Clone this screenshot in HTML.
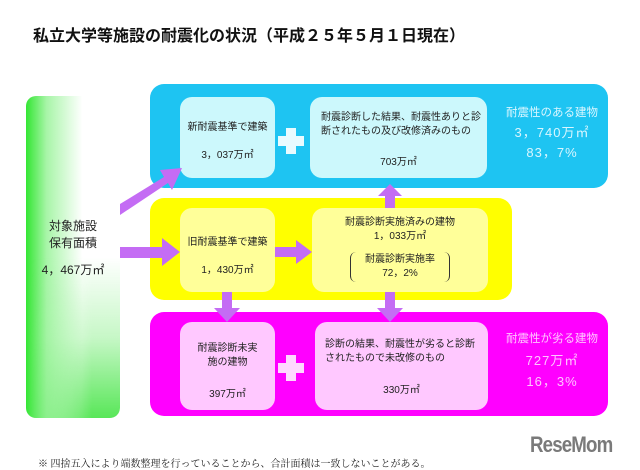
<!DOCTYPE html>
<html><head><meta charset="utf-8"><style>
*{margin:0;padding:0;box-sizing:border-box}
body{width:640px;height:470px;background:#fff;position:relative;overflow:hidden;font-family:"Liberation Sans","Noto Sans CJK JP",sans-serif;color:#222}
.a{position:absolute}
.panel{position:absolute;border-radius:14px}
.box{position:absolute;border-radius:12px;font-size:10px;text-align:center;line-height:14px}
</style></head><body>
<div class="a" style="left:33px;top:22px;font-size:16px;font-weight:bold;color:#111;letter-spacing:0px">私立大学等施設の耐震化の状況（平成２５年５月１日現在）</div>

<div class="panel" style="left:26px;top:96px;width:94px;height:322px;border-radius:10px;background:linear-gradient(90deg,#33e633 0%,#a8f5a8 22%,#fff 60%,#fff 100%)"></div>
<div class="panel" style="left:26px;top:96px;width:94px;height:322px;border-radius:10px;background:linear-gradient(0deg,rgba(70,228,70,0.9) 0%,rgba(130,238,130,0.45) 25%,rgba(255,255,255,0) 50%);-webkit-mask-image:linear-gradient(90deg,transparent 0%,black 70%);mask-image:linear-gradient(90deg,transparent 0%,black 70%)"></div>
<div class="a" style="left:26px;top:218px;width:94px;text-align:center;font-size:12px;line-height:17px;color:#222">対象施設<br>保有面積<div style="margin-top:10px">4，467万㎡</div></div>

<div class="panel" style="left:150px;top:84px;width:458px;height:104px;background:#1ec4f2"></div>
<div class="panel" style="left:150px;top:198px;width:362px;height:102px;background:#ffff00"></div>
<div class="panel" style="left:150px;top:312px;width:458px;height:104px;background:#ff00ff"></div>

<div class="box" style="left:180px;top:97px;width:95px;height:81px;background:#ccf8fc;padding-top:24px">新耐震基準で建築<div style="margin-top:14px">3，037万㎡</div></div>
<div class="box" style="left:310px;top:97px;width:177px;height:81px;background:#ccf8fc;padding-top:14px;text-align:left;padding-left:11px">耐震診断した結果、耐震性ありと診<br>断されたもの及び改修済みのもの<div style="margin-top:17px;text-align:center;padding-right:11px">703万㎡</div></div>
<div class="a" style="left:496px;top:103px;width:112px;text-align:center;color:#d8f6ff;font-size:11.5px;line-height:20px">耐震性のある建物<div style="font-size:13px;letter-spacing:1px">3，740万㎡</div><div style="font-size:13px;letter-spacing:1px">83，7%</div></div>

<div class="box" style="left:180px;top:208px;width:95px;height:84px;background:#ffff99;padding-top:28px">旧耐震基準で建築<div style="margin-top:14px">1，430万㎡</div></div>
<div class="box" style="left:312px;top:208px;width:176px;height:84px;background:#ffff99;padding-top:8px">耐震診断実施済みの建物<br>1，033万㎡
<div style="position:relative;margin:8px auto 0;width:100px;height:30px;border-left:1px solid #333;border-right:1px solid #333;border-radius:6px;line-height:14px;padding-top:1px">耐震診断実施率<br>72，2%</div></div>

<div class="box" style="left:180px;top:322px;width:95px;height:88px;background:#ffc8ff;padding-top:20px">耐震診断未実<br>施の建物<div style="margin-top:18px">397万㎡</div></div>
<div class="box" style="left:315px;top:322px;width:173px;height:88px;background:#ffc8ff;padding-top:16px;text-align:left;padding-left:10px">診断の結果、耐震性が劣ると診断<br>されたもので未改修のもの<div style="margin-top:18px;text-align:center;padding-right:10px">330万㎡</div></div>
<div class="a" style="left:496px;top:329px;width:112px;text-align:center;color:#ffc4ff;font-size:11.5px;line-height:21px">耐震性が劣る建物<div style="font-size:13px;letter-spacing:1px">727万㎡</div><div style="font-size:13px;letter-spacing:1px">16，3%</div></div>

<div class="a" style="left:286px;top:128px;width:10px;height:26px;background:#e8fbff"></div>
<div class="a" style="left:278px;top:136px;width:26px;height:10px;background:#e8fbff"></div>
<div class="a" style="left:286px;top:355px;width:10px;height:26px;background:#ffd8ff"></div>
<div class="a" style="left:278px;top:363px;width:26px;height:10px;background:#ffd8ff"></div>

<svg class="a" style="left:0;top:0" width="640" height="470">
<g fill="#c46cf4">
<polygon points="120,204 120,215 168,183 172,190 182,168 160,170 164,177"/>
<polygon points="120,247 120,258 162,258 162,266 180,252 162,238 162,247"/>
<polygon points="275,247 275,257 296,257 296,264 312,252 296,240 296,247"/>
<polygon points="385,208 395,208 395,196 402,196 390,184 378,196 385,196"/>
<polygon points="222,292 232,292 232,308 240,308 227,322 214,308 222,308"/>
<polygon points="385,292 395,292 395,308 403,308 390,322 377,308 385,308"/>
</g>
</svg>

<div class="a" style="left:530px;top:432px;font-size:22px;font-weight:bold;color:#7a7a7a;letter-spacing:-1px;transform:scaleX(0.85);transform-origin:left">ReseMom</div>
<div class="a" style="left:38px;top:455px;font-family:'Liberation Serif','Noto Serif CJK SC',serif;font-size:10px;color:#222">※ 四捨五入により端数整理を行っていることから、合計面積は一致しないことがある。</div>
</body></html>
